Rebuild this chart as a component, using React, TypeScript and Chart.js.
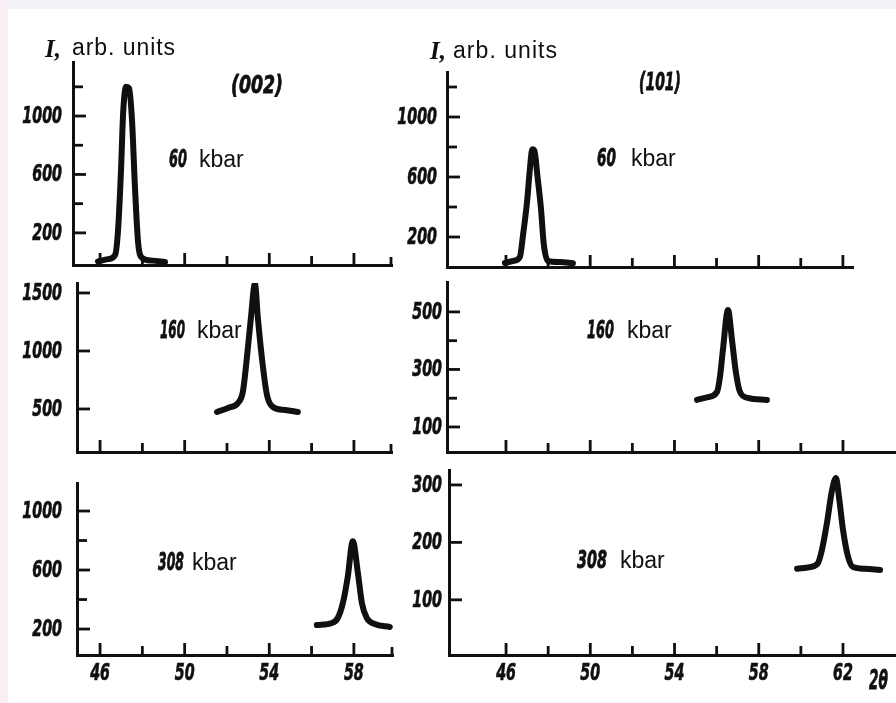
import React, { useEffect, useRef } from "react";
import { Chart, registerables } from "chart.js";

Chart.register(...registerables);

// ---- diffraction traces: 2θ (deg) vs intensity (arb. units) ----
// (002) reflection
const theta002p60 = [45.9, 46.38, 46.71, 46.85, 46.99, 47.09, 47.23, 47.37, 47.51, 47.65, 47.8, 47.98, 48.46, 49.07];
const int002p60 = [5, 20, 48, 220, 630, 1020, 1200, 1190, 970, 510, 130, 30, 10, 0];
const theta002p160 = [51.53, 52.05, 52.52, 52.75, 52.94, 53.13, 53.32, 53.46, 53.65, 53.89, 54.17, 54.74, 55.35];
const int002p160 = [474, 509, 552, 647, 940, 1284, 1580, 1284, 940, 620, 517, 491, 474];
const theta002p308 = [56.25, 56.96, 57.24, 57.48, 57.71, 57.95, 58.19, 58.38, 58.61, 58.99, 59.7];
const int002p308 = [227, 241, 275, 376, 553, 795, 580, 376, 275, 234, 214];
// (101) reflection
const theta101p60 = [45.95, 46.33, 46.66, 46.81, 47.0, 47.14, 47.25, 47.35, 47.5, 47.66, 47.8, 47.99, 48.56, 49.18];
const int101p60 = [27, 40, 67, 213, 433, 660, 785, 775, 600, 393, 147, 40, 33, 25];
const theta101p160 = [55.07, 55.59, 56.02, 56.16, 56.3, 56.54, 56.73, 56.92, 57.11, 57.49, 58.39];
const int101p160 = [194, 204, 222, 274, 368, 507, 403, 288, 222, 201, 194];
const theta101p308 = [59.82, 60.43, 60.81, 61.0, 61.24, 61.48, 61.67, 61.81, 62.0, 62.24, 62.48, 63.05, 63.76];
const int101p308 = [154, 157, 164, 187, 234, 291, 312, 279, 222, 175, 157, 154, 152];

// ---- axis ticks ----
const thetaTicks002 = [46, 48, 50, 52, 54, 56, 58];
const thetaTicks101 = [46, 48, 50, 52, 54, 56, 58, 60, 62];
const thetaLabels002 = [46, 50, 54, 58];
const thetaLabels101 = [46, 50, 54, 58, 62];
const intTicks1200 = [200, 400, 600, 800, 1000, 1200];
const intLabels1200 = [200, 600, 1000];
const intTicks1500 = [500, 1000, 1500];
const intTicks1000 = [200, 400, 600, 800, 1000];
const intLabels1000 = [200, 600, 1000];
const intTicks500 = [100, 200, 300, 400, 500];
const intLabels500 = [100, 300, 500];
const intTicks300 = [100, 200, 300];

const PAGE_W = 896;
const PAGE_H = 703;
const Y_AXIS_W = 60;
const X_AXIS_H = 30;
const INK = "#101010";
const NUM_FONT = "italic bold 23px 'DejaVu Sans', sans-serif";
const NARROW = 0.62; // horizontal squeeze of the bold italic numerals
const SANS_FAMILY = "'Liberation Sans', Arial, sans-serif";

type PanelSpec = {
  theta: number[];
  intensity: number[];
  area: [number, number, number, number]; // left, top, right, bottom of the plot frame
  xRange: [number, number];
  yRange: [number, number];
  xTicks: number[];
  xMajor: number[];
  showX: boolean;
  yTicks: number[];
  yLabels: number[];
  yPad: number;
  endHook: boolean;
};

const panels: PanelSpec[] = [
  {
    theta: theta002p60, intensity: int002p60, area: [73, 62, 392, 265],
    xRange: [44.72, 59.8], yRange: [-20, 1370],
    xTicks: thetaTicks002, xMajor: thetaLabels002, showX: false,
    yTicks: intTicks1200, yLabels: intLabels1200, yPad: 11, endHook: true,
  },
  {
    theta: theta002p160, intensity: int002p160, area: [77, 283, 392, 452],
    xRange: [44.91, 59.8], yRange: [129, 1586],
    xTicks: thetaTicks002, xMajor: thetaLabels002, showX: false,
    yTicks: intTicks1500, yLabels: intTicks1500, yPad: 15, endHook: true,
  },
  {
    theta: theta002p308, intensity: int002p308, area: [77, 483, 393, 655],
    xRange: [44.91, 59.85], yRange: [24, 1190],
    xTicks: thetaTicks002, xMajor: thetaLabels002, showX: true,
    yTicks: intTicks1000, yLabels: intLabels1000, yPad: 15, endHook: true,
  },
  {
    theta: theta101p60, intensity: int101p60, area: [447, 72, 853, 267],
    xRange: [43.2, 62.48], yRange: [0, 1300],
    xTicks: thetaTicks101, xMajor: thetaLabels101, showX: false,
    yTicks: intTicks1200, yLabels: intLabels1200, yPad: 10, endHook: false,
  },
  {
    theta: theta101p160, intensity: int101p160, area: [447, 282, 895, 452],
    xRange: [43.2, 64.47], yRange: [13, 604],
    xTicks: thetaTicks101, xMajor: thetaLabels101, showX: false,
    yTicks: intTicks500, yLabels: intLabels500, yPad: 5, endHook: false,
  },
  {
    theta: theta101p308, intensity: int101p308, area: [449, 470, 895, 655],
    xRange: [43.29, 64.47], yRange: [4, 326],
    xTicks: thetaTicks101, xMajor: thetaLabels101, showX: true,
    yTicks: intTicks300, yLabels: intTicks300, yPad: 7, endHook: false,
  },
];

// Tick marks point into the plot; numerals are drawn narrow and bold italic.
const printedAxes = {
  id: "printedAxes",
  beforeDatasetsDraw(chart: any, _args: any, opts: any) {
    const { ctx, chartArea } = chart;
    const xs = chart.scales.x;
    const ys = chart.scales.y;
    ctx.save();
    ctx.strokeStyle = INK;
    ctx.lineWidth = 2.8;
    ctx.lineCap = "butt";
    xs.ticks.forEach((t: any) => {
      const px = xs.getPixelForValue(t.value);
      const len = opts.xMajor.includes(t.value) ? 12 : 9;
      ctx.beginPath();
      ctx.moveTo(px, chartArea.bottom);
      ctx.lineTo(px, chartArea.bottom - len);
      ctx.stroke();
    });
    if (opts.endHook) {
      ctx.beginPath();
      ctx.moveTo(chartArea.right - 1, chartArea.bottom);
      ctx.lineTo(chartArea.right - 1, chartArea.bottom - 8);
      ctx.stroke();
    }
    ys.ticks.forEach((t: any) => {
      const py = ys.getPixelForValue(t.value);
      const len = opts.yMajor.includes(t.value) ? 13 : 10;
      ctx.beginPath();
      ctx.moveTo(chartArea.left, py);
      ctx.lineTo(chartArea.left + len, py);
      ctx.stroke();
    });
    ctx.restore();
  },
  afterDraw(chart: any, _args: any, opts: any) {
    const { ctx, chartArea } = chart;
    const xs = chart.scales.x;
    const ys = chart.scales.y;
    ctx.save();
    ctx.fillStyle = INK;
    ctx.strokeStyle = INK;
    ctx.lineWidth = 0.7;
    ctx.font = NUM_FONT;
    ctx.textBaseline = "middle";
    const narrowText = (text: string, x: number, y: number, align: CanvasTextAlign) => {
      const w = ctx.measureText(text).width * NARROW;
      ctx.textAlign = align;
      ctx.fillText(text, x, y, w);
      ctx.strokeText(text, x, y, w);
    };
    ys.ticks.forEach((t: any) => {
      if (!opts.yMajor.includes(t.value)) return;
      const label = t.label ? String(t.label) : String(t.value);
      narrowText(label, chartArea.left - opts.yPad, ys.getPixelForValue(t.value) + 1, "right");
    });
    if (opts.showX) {
      xs.ticks.forEach((t: any) => {
        if (!opts.xMajor.includes(t.value)) return;
        const label = t.label ? String(t.label) : String(t.value);
        narrowText(label, xs.getPixelForValue(t.value), chartArea.bottom + 19, "center");
      });
    }
    ctx.restore();
  },
};

function PanelChart({ spec }: { spec: PanelSpec }) {
  const ref = useRef<HTMLCanvasElement | null>(null);
  useEffect(() => {
    if (!ref.current) return;
    const [l, t, r, b] = spec.area;
    const points = spec.theta.map((x, i) => ({ x, y: spec.intensity[i] }));
    const chart = new Chart(ref.current, {
      type: "line",
      data: {
        datasets: [
          {
            data: points,
            borderColor: INK,
            borderWidth: 6,
            pointRadius: 0,
            cubicInterpolationMode: "monotone",
            borderCapStyle: "round",
            borderJoinStyle: "round",
            fill: false,
          },
        ],
      },
      options: {
        responsive: false,
        animation: false,
        events: [],
        layout: {
          padding: {
            left: l - Y_AXIS_W,
            top: t,
            right: PAGE_W - r,
            bottom: PAGE_H - b - X_AXIS_H,
          },
        },
        plugins: {
          legend: { display: false },
          tooltip: { enabled: false },
          printedAxes: {
            xMajor: spec.xMajor,
            yMajor: spec.yLabels,
            endHook: spec.endHook,
            showX: spec.showX,
            yPad: spec.yPad,
          },
        } as any,
        scales: {
          x: {
            type: "linear",
            min: spec.xRange[0],
            max: spec.xRange[1],
            grid: { display: false, drawTicks: false },
            border: { display: true, color: INK, width: 3 },
            afterBuildTicks: (s: any) => {
              s.ticks = spec.xTicks.map((v) => ({ value: v }));
            },
            afterFit: (s: any) => {
              s.height = X_AXIS_H;
              s.paddingLeft = 0;
              s.paddingRight = 0;
            },
            ticks: {
              display: false,
              autoSkip: false,
              callback: (v: any) => (spec.xMajor.includes(Number(v)) ? String(v) : ""),
            },
          },
          y: {
            type: "linear",
            min: spec.yRange[0],
            max: spec.yRange[1],
            grid: { display: false, drawTicks: false },
            border: { display: true, color: INK, width: 3 },
            afterBuildTicks: (s: any) => {
              s.ticks = spec.yTicks.map((v) => ({ value: v }));
            },
            afterFit: (s: any) => {
              s.width = Y_AXIS_W;
              s.paddingTop = 0;
              s.paddingBottom = 0;
            },
            ticks: {
              display: false,
              autoSkip: false,
              callback: (v: any) => (spec.yLabels.includes(Number(v)) ? String(v) : ""),
            },
          },
        },
      },
      plugins: [printedAxes as any],
    });
    return () => chart.destroy();
  }, [spec]);
  return (
    <canvas
      ref={ref}
      width={PAGE_W}
      height={PAGE_H}
      style={{ position: "absolute", left: 0, top: 0, width: PAGE_W, height: PAGE_H }}
    />
  );
}

// Narrow bold italic numerals, squeezed to a set width.
function Num({ x, y, w, text, size = 25 }: { x: number; y: number; w: number; text: string; size?: number }) {
  return (
    <text
      x={x}
      y={y}
      textLength={w}
      lengthAdjust="spacingAndGlyphs"
      fontFamily="'DejaVu Sans', sans-serif"
      fontStyle="italic"
      fontWeight={700}
      fontSize={size}
      fill={INK}
      stroke={INK}
      strokeWidth={0.8}
    >
      {text}
    </text>
  );
}

function Word({ x, y, text, size = 22, w }: { x: number; y: number; text: string; size?: number; w?: number }) {
  return (
    <text
      x={x}
      y={y}
      textLength={w}
      lengthAdjust={w ? "spacing" : undefined}
      fontFamily={SANS_FAMILY}
      fontSize={size}
      fill={INK}
    >
      {text}
    </text>
  );
}

function Intensity({ x, y }: { x: number; y: number }) {
  return (
    <text x={x} y={y} fontFamily="'Liberation Serif', serif" fontStyle="italic" fontWeight={700} fontSize={25} fill={INK}>
      I,
    </text>
  );
}

export default function App() {
  return (
    <div
      style={{
        position: "absolute",
        left: 0,
        top: 0,
        width: PAGE_W,
        height: PAGE_H,
        background: "#f3f3f7",
        overflow: "hidden",
      }}
    >
      <div style={{ position: "absolute", left: 0, top: 0, width: 8, height: PAGE_H, background: "#f8eef3" }} />
      <div style={{ position: "absolute", left: 8, top: 9, width: PAGE_W - 8, height: PAGE_H - 9, background: "#ffffff" }} />
      {panels.map((p, i) => (
        <PanelChart key={i} spec={p} />
      ))}
      <svg
        width={PAGE_W}
        height={PAGE_H}
        style={{ position: "absolute", left: 0, top: 0 }}
      >
        <Intensity x={45} y={57} />
        <Word x={72} y={55} text="arb. units" size={23} w={103} />
        <Intensity x={430} y={59} />
        <Word x={453} y={58} text="arb. units" size={23} w={104} />

        <Num x={231} y={93} w={52} text="(002)" size={24} />
        <Num x={639} y={90} w={42} text="(101)" size={24} />

        <Num x={169} y={167} w={18} text="60" />
        <Word x={199} y={167} text="kbar" size={23} />
        <Num x={597} y={166} w={19} text="60" />
        <Word x={631} y={166} text="kbar" size={23} />

        <Num x={160} y={338} w={25} text="160" />
        <Word x={197} y={338} text="kbar" size={23} />
        <Num x={587} y={338} w={27} text="160" />
        <Word x={627} y={338} text="kbar" size={23} />

        <Num x={158} y={570} w={26} text="308" />
        <Word x={192} y={570} text="kbar" size={23} />
        <Num x={577} y={568} w={30} text="308" />
        <Word x={620} y={568} text="kbar" size={23} />

        <Num x={869} y={689} w={19} text="2θ" size={26} />
      </svg>
    </div>
  );
}
